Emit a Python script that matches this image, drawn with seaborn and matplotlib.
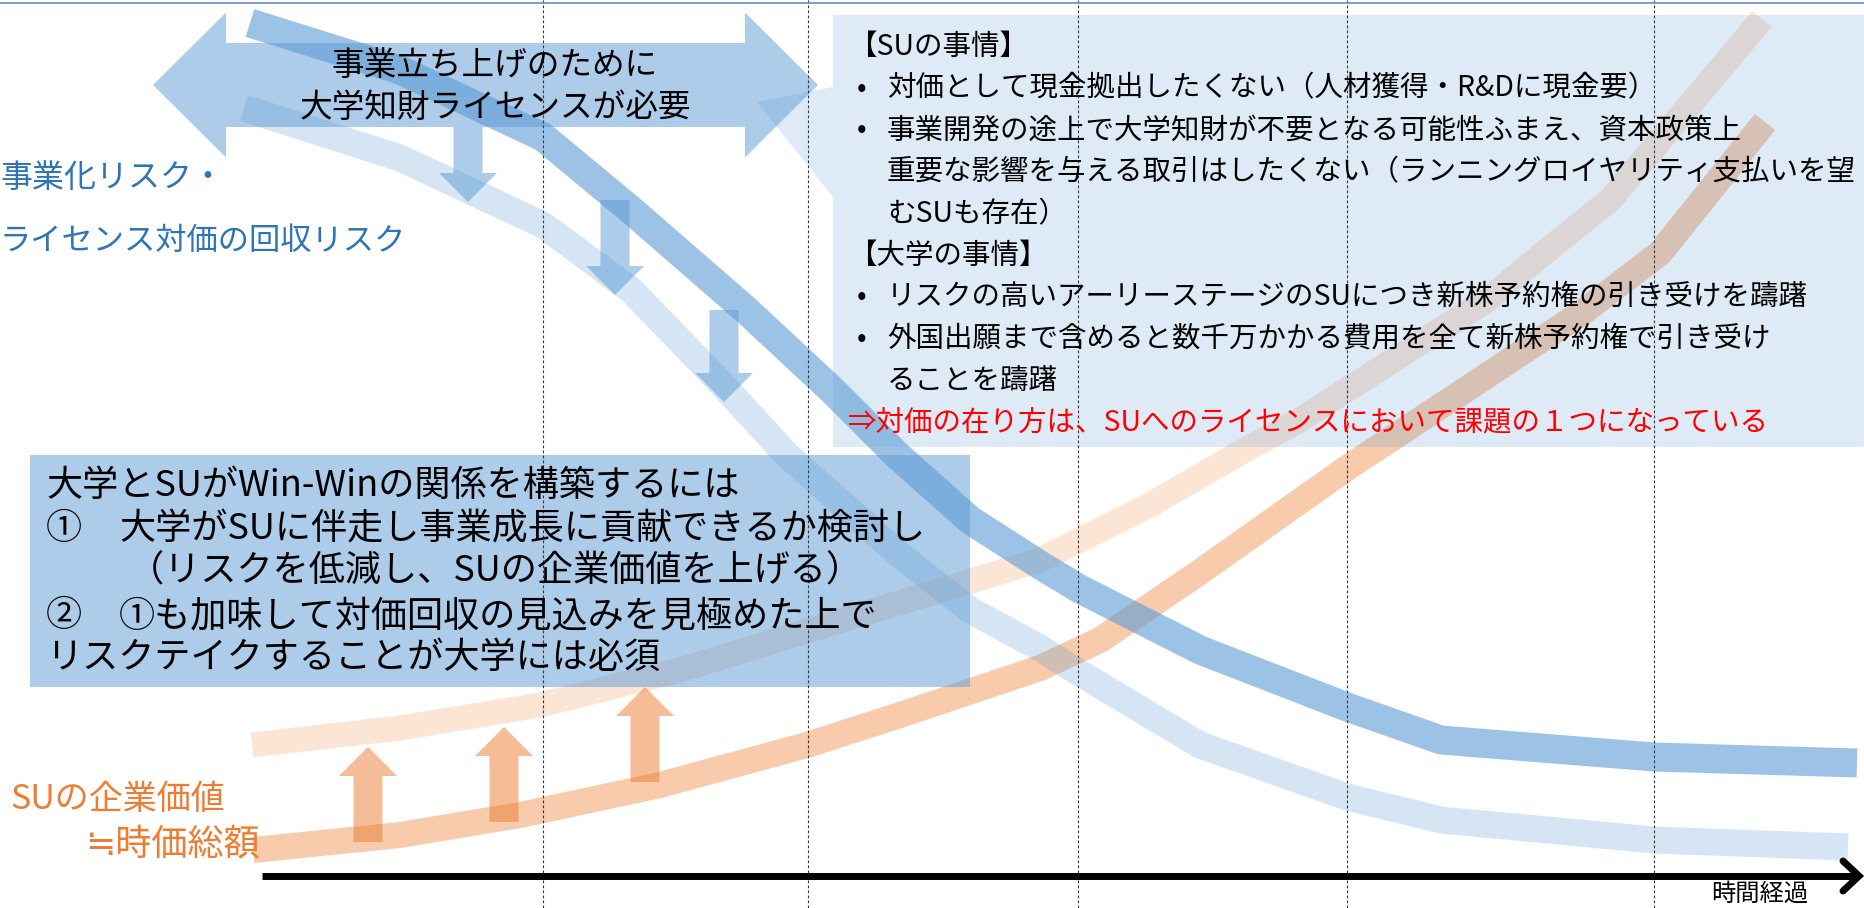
import matplotlib
matplotlib.use("Agg")
import matplotlib.pyplot as plt
import seaborn as sns
import pandas as pd
from matplotlib.patches import Polygon, Rectangle, FancyArrow

sns.set_theme(style="white")
plt.rcParams["font.family"] = ["Noto Sans CJK JP", "DejaVu Sans"]

# ---------------- data (pixel space) ----------------
# risk curve (dark blue) and its shifted copy (light blue)
risk_x = [250, 400, 543, 631, 746, 832, 897, 970, 1040, 1078, 1200, 1347, 1441, 1654, 1857]
risk_y = [23, 70, 137, 210, 310, 390, 455, 520, 565, 588, 650, 707, 740, 757, 763]
risk_low_x = [244, 400, 543, 631, 718, 787, 900, 970, 1040, 1078, 1200, 1347, 1441, 1654, 1848]
risk_low_y = [108, 158, 225, 290, 380, 455, 555, 610, 648, 672, 745, 797, 820, 840, 847]

# enterprise value curve (orange) and raised copy (light orange)
value_x = [253, 400, 520, 660, 807, 900, 1040, 1100, 1200, 1347, 1450, 1583, 1660, 1765]
value_y = [850, 835, 815, 785, 745, 715, 668, 640, 572, 468, 400, 312, 253, 122]
value_high_x = [252, 400, 540, 680, 807, 1040, 1150, 1245, 1300, 1487, 1560, 1610, 1762]
value_high_y = [745, 728, 705, 670, 631, 560, 505, 450, 420, 300, 240, 200, 19]

# down arrows (blue) and up arrows (orange): x centre, tail y, tip y
down_x = [468, 615, 724]
down_tail = [127, 200, 310]
down_tip = [202, 295, 402]
up_x = [368, 504, 645]
up_tail = [842, 822, 782]
up_tip = [747, 727, 687]

# vertical dashed period separators
period_x = [543, 808, 1078, 1347, 1654]

# texts
arrow_text = ["事業立ち上げのために", "大学知財ライセンスが必要"]
risk_label = ["事業化リスク・", "ライセンス対価の回収リスク"]
value_label = ["SUの企業価値", "≒時価総額"]
axis_label = "時間経過"
box1_lines = [
    ("【SUの事情】", 0, "black"),
    ("対価として現金拠出したくない（人材獲得・R&Dに現金要）", 1, "black"),
    ("事業開発の途上で大学知財が不要となる可能性ふまえ、資本政策上", 1, "black"),
    ("重要な影響を与える取引はしたくない（ランニングロイヤリティ支払いを望", 2, "black"),
    ("むSUも存在）", 2, "black"),
    ("【大学の事情】", 0, "black"),
    ("リスクの高いアーリーステージのSUにつき新株予約権の引き受けを躊躇", 1, "black"),
    ("外国出願まで含めると数千万かかる費用を全て新株予約権で引き受け", 1, "black"),
    ("ることを躊躇", 2, "black"),
    ("⇒対価の在り方は、SUへのライセンスにおいて課題の１つになっている", 0, "#FF0000"),
]
box2_lines = [
    ("", "大学とSUがWin-Winの関係を構築するには"),
    ("①", "大学がSUに伴走し事業成長に貢献できるか検討し"),
    ("", "　（リスクを低減し、SUの企業価値を上げる）"),
    ("②", "①も加味して対価回収の見込みを見極めた上で"),
    ("", "リスクテイクすることが大学には必須"),
]

# ---------------- figure ----------------
W, H = 1864, 908
fig = plt.figure(figsize=(W / 100, H / 100), dpi=100)
ax = fig.add_axes([0, 0, 1, 1])

BLUE = "#5B9BD5"
ORANGE = "#ED7D31"
PX = 0.72  # points per pixel


def band(xs, ys, color, alpha, width_px, z):
    df = pd.DataFrame({"x": xs, "y": ys})
    sns.lineplot(data=df, x="x", y="y", ax=ax, sort=False, estimator=None,
                 color=color, alpha=alpha, linewidth=width_px * PX,
                 solid_capstyle="butt", solid_joinstyle="round", zorder=z)


band(value_high_x, value_high_y, ORANGE, 0.2, 25, 2)
band(value_x, value_y, ORANGE, 0.4, 26, 2.1)
band(risk_low_x, risk_low_y, BLUE, 0.25, 27, 2.2)
band(risk_x, risk_y, BLUE, 0.6, 29, 2.3)

# arrows
SHAFT, HEADW, HEADL = 29, 58, 29
for x, t0, t1 in zip(down_x, down_tail, down_tip):
    ax.add_patch(FancyArrow(x, t0, 0, t1 - t0, width=SHAFT, head_width=HEADW,
                            head_length=HEADL, length_includes_head=True,
                            color=BLUE, alpha=0.5, lw=0, zorder=3))
for x, t0, t1 in zip(up_x, up_tail, up_tip):
    ax.add_patch(FancyArrow(x, t0, 0, t1 - t0, width=SHAFT, head_width=HEADW,
                            head_length=HEADL, length_includes_head=True,
                            color=ORANGE, alpha=0.5, lw=0, zorder=3))

# double headed arrow
cy, xl, xr, hl, hh, sh = 85, 153, 818, 73, 72.5, 42
dbl = [(xl, cy), (xl + hl, cy - hh), (xl + hl, cy - sh), (xr - hl, cy - sh),
       (xr - hl, cy - hh), (xr, cy), (xr - hl, cy + hh), (xr - hl, cy + sh),
       (xl + hl, cy + sh), (xl + hl, cy + hh)]
ax.add_patch(Polygon(dbl, closed=True, facecolor=BLUE, alpha=0.5, lw=0, zorder=3))

# callout box (top right)
bx0, by0, bx1, by1 = 833, 15, 1864, 447
callout = [(bx0, by0), (bx1, by0), (bx1, by1), (bx0, by1), (bx0, 197), (757, 102), (bx0, 87)]
ax.add_patch(Polygon(callout, closed=True, facecolor=BLUE, alpha=0.2, lw=0, zorder=4))

# bottom-left box
ax.add_patch(Rectangle((30, 455), 940, 232, facecolor=BLUE, alpha=0.5, lw=0, zorder=4))

# dashed separators and top rule
for x in period_x:
    ax.plot([x, x], [0, H], color="#333333", lw=0.8, ls=(0, (2.5, 2)), zorder=5)
ax.plot([0, W], [2.5, 2.5], color="#6A86D6", lw=1.2, zorder=5)

# time axis
ax.plot([262, 1858], [876, 876], color="black", lw=5, solid_capstyle="butt", zorder=5)
ax.plot([1843, 1859, 1843], [861, 876, 891], color="black", lw=5,
        solid_joinstyle="miter", solid_capstyle="round", zorder=5)

# ---------------- texts ----------------
ax.text(495, 66, arrow_text[0], ha="center", va="center", fontsize=23.5, color="black", zorder=6)
ax.text(495, 108, arrow_text[1], ha="center", va="center", fontsize=23.5, color="black", zorder=6)

ax.text(0, 178, risk_label[0], ha="left", va="center", fontsize=23, color="#2E75B6", zorder=6)
ax.text(0, 241, risk_label[1], ha="left", va="center", fontsize=22.5, color="#2E75B6", zorder=6)

ax.text(10, 800, value_label[0], ha="left", va="center", fontsize=24.5, color=ORANGE, zorder=6)
ax.text(260, 845, value_label[1], ha="right", va="center", fontsize=26, color=ORANGE, zorder=6)

ax.text(1808, 907, axis_label, ha="right", va="bottom", fontsize=17.5, color="black", zorder=6)

y0, dy = 47, 41.7
for i, (txt, kind, col) in enumerate(box1_lines):
    y = y0 + i * dy
    if kind == 0:
        ax.text(848, y, txt, ha="left", va="center", fontsize=20.5, color=col, zorder=6)
    else:
        if kind == 1:
            ax.text(857, y, "•", ha="left", va="center", fontsize=20.5, color=col, zorder=6)
        ax.text(887, y, txt, ha="left", va="center", fontsize=20.5, color=col, zorder=6)

y0b = [486, 529, 572, 616, 658]
FS2 = 26
for (mark, txt), y in zip(box2_lines, y0b):
    if mark:
        ax.text(46, y, mark, ha="left", va="center", fontsize=FS2, color="black", zorder=6)
        ax.text(119, y, txt, ha="left", va="center", fontsize=FS2, color="black", zorder=6)
    else:
        if txt.startswith("　"):
            ax.text(92, y, txt, ha="left", va="center", fontsize=FS2, color="black", zorder=6)
        else:
            ax.text(46, y, txt, ha="left", va="center", fontsize=FS2, color="black", zorder=6)

ax.set_xlim(0, W)
ax.set_ylim(H, 0)
ax.axis("off")
fig.savefig("out.png", dpi=100)
